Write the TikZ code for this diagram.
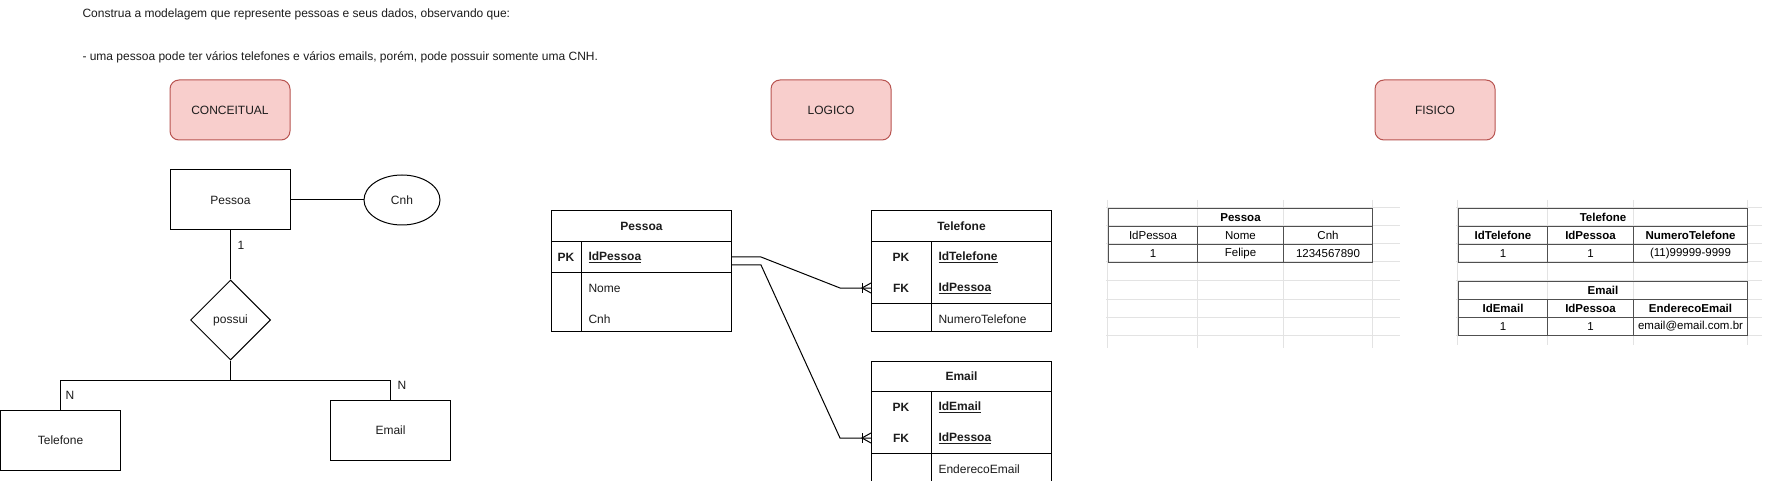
\documentclass[tikz,border=0pt]{standalone}
\usepackage{fontspec}
\setmainfont{Liberation Sans}
\usetikzlibrary{shapes.geometric,calc}
\definecolor{redfill}{HTML}{F8CECC}
\definecolor{redline}{HTML}{B85450}
\definecolor{gridc}{HTML}{E3E3E3}
\definecolor{cellline}{HTML}{505050}
\definecolor{txt}{HTML}{1C1C1C}
\tikzset{
  lbl/.style={font=\fontsize{12}{14}\selectfont, text=txt, inner sep=0pt},
  boldlbl/.style={font=\fontsize{12}{14}\selectfont\bfseries, text=txt, inner sep=0pt},
  titlebox/.style={lbl, draw=redline, fill=redfill, rounded corners=9pt, minimum width=120pt, minimum height=60pt},
  entity/.style={lbl, draw, minimum width=120pt, minimum height=60pt},
  attrib/.style={lbl, draw, ellipse, minimum width=76pt, minimum height=50pt},
  relation/.style={lbl, draw, diamond, minimum width=80pt, minimum height=80pt},
  tablebox/.style={draw, inner sep=0pt, minimum width=180pt, minimum height=120pt, anchor=north west},
  tablerow/.style={inner sep=0pt, minimum width=180pt, minimum height=30pt, anchor=north west},
  cell/.style={draw=cellline, inner sep=0pt, minimum height=18pt, anchor=north west, font=\fontsize{11.5}{13}\selectfont, text=black},
  boldcell/.style={cell, font=\fontsize{11.5}{13}\selectfont\bfseries},
  gridline/.style={draw=gridc, line width=1pt},
  crow/.style={line width=1pt}
}
\begin{document}
\begin{tikzpicture}[x=1pt,y=-1pt,line width=1pt]
\useasboundingbox (0,0) rectangle (1765,481);
\fill[white] (0,0) rectangle (1765,481);

% intro text
\node[lbl, anchor=west] (intro1) at (82,14) {Construa a modelagem que represente pessoas e seus dados, observando que:};
\node[lbl, anchor=west] (intro2) at (82,57) {- uma pessoa pode ter vários telefones e vários emails, porém, pode possuir somente uma CNH.};

% titles
\node[titlebox] (tconc) at (230,110) {CONCEITUAL};
\node[titlebox] (tlog) at (831,110) {LOGICO};
\node[titlebox] (tfis) at (1435,110) {FISICO};

% ---------- conceptual ----------
\node[entity] (cpessoa) at (230.5,200) {Pessoa};
\node[attrib] (ccnh) at (402,200) {Cnh};
\node[relation] (cpossui) at (230.5,320) {possui};
\node[entity] (ctel) at (60.5,440) {Telefone};
\node[entity] (cemail) at (390.5,430) {Email};
\draw (cpessoa.east) -- (ccnh.west);
\draw (cpessoa.south) -- (cpossui.north);
\draw (cpossui.south) -- ++(0,20) coordinate (cj);
\draw (ctel.north) |- (cj);
\draw (cemail.north) |- (cj);
\node[lbl] (c1) at (241,245) {1};
\node[lbl] (cn1) at (70,395) {N};
\node[lbl] (cn2) at (402,385) {N};

% ---------- logical ----------
% Pessoa
\node[tablebox] (lp) at (551,210.5) {};
\node[tablerow] (lph) at (lp.north west) {};
\node[tablerow] (lppk) at (lph.south west) {};
\node[tablerow] (lpr1) at (lppk.south west) {};
\node[tablerow] (lpr2) at (lpr1.south west) {};
\draw (lph.south west) -- (lph.south east);
\draw (lppk.south west) -- (lppk.south east);
\draw ([xshift=30pt]lph.south west) -- ([xshift=30pt]lp.south west);
\node[boldlbl] (lpt) at (lph.center) {Pessoa};
\node[boldlbl] (lpk) at ([xshift=15pt]lppk.west) {PK};
\node[boldlbl, anchor=west] (lpid) at ([xshift=37pt]lppk.west) {\underline{IdPessoa}};
\node[lbl, anchor=west] (lpnome) at ([xshift=37pt]lpr1.west) {Nome};
\node[lbl, anchor=west] (lpcnh) at ([xshift=37pt]lpr2.west) {Cnh};

% Telefone
\node[tablebox] (lt) at (871,210.5) {};
\node[tablerow] (lth) at (lt.north west) {};
\node[tablerow] (ltpk) at (lth.south west) {};
\node[tablerow] (ltfk) at (ltpk.south west) {};
\node[tablerow] (ltr1) at (ltfk.south west) {};
\draw (lth.south west) -- (lth.south east);
\draw (ltfk.south west) -- (ltfk.south east);
\draw ([xshift=60pt]lth.south west) -- ([xshift=60pt]lt.south west);
\node[boldlbl] (ltt) at (lth.center) {Telefone};
\node[boldlbl] (ltpkl) at ([xshift=30pt]ltpk.west) {PK};
\node[boldlbl, anchor=west] (ltid) at ([xshift=67pt]ltpk.west) {\underline{IdTelefone}};
\node[boldlbl] (ltfkl) at ([xshift=30pt]ltfk.west) {FK};
\node[boldlbl, anchor=west] (ltidp) at ([xshift=67pt]ltfk.west) {\underline{IdPessoa}};
\node[lbl, anchor=west] (ltnum) at ([xshift=67pt]ltr1.west) {NumeroTelefone};

% Email
\node[tablebox] (le) at (871,360.5) {};
\node[tablerow] (leh) at (le.north west) {};
\node[tablerow] (lepk) at (leh.south west) {};
\node[tablerow] (lefk) at (lepk.south west) {};
\node[tablerow] (ler1) at (lefk.south west) {};
\draw (leh.south west) -- (leh.south east);
\draw (lefk.south west) -- (lefk.south east);
\draw ([xshift=60pt]leh.south west) -- ([xshift=60pt]le.south west);
\node[boldlbl] (let) at (leh.center) {Email};
\node[boldlbl] (lepkl) at ([xshift=30pt]lepk.west) {PK};
\node[boldlbl, anchor=west] (leid) at ([xshift=67pt]lepk.west) {\underline{IdEmail}};
\node[boldlbl] (lefkl) at ([xshift=30pt]lefk.west) {FK};
\node[boldlbl, anchor=west] (leidp) at ([xshift=67pt]lefk.west) {\underline{IdPessoa}};
\node[lbl, anchor=west] (leend) at ([xshift=67pt]ler1.west) {EnderecoEmail};

% connectors
\draw (lppk.east) -- ++(29,0) -- ($(ltfk.west)+(-31,0)$) -- (ltfk.west);
\draw ([yshift=-8pt]lppk.east) -- ++(29,0) -- ($(lefk.west)+(-31,0)$) -- (lefk.west);
% crow's feet (one or many)
\foreach \t in {ltfk,lefk}{
  \draw[crow] ([xshift=-9pt,yshift=5pt]\t.west) -- ([xshift=-9pt,yshift=-5pt]\t.west);
  \draw[crow] ([yshift=5pt]\t.west) -- ([xshift=-9pt]\t.west) -- ([yshift=-5pt]\t.west);
}

% ---------- physical ----------
% grids
\foreach \yy in {207.5,226,244,262,281,299,317,335}{
  \draw[gridline] (1106,\yy) -- (1400,\yy);
  \draw[gridline] (1456,\yy) -- (1762,\yy);
}
\foreach \xx in {1107.5,1197,1283,1372}{
  \draw[gridline] (\xx,200) -- (\xx,348);
}
\foreach \xx in {1457.5,1547,1633,1747}{
  \draw[gridline] (\xx,200) -- (\xx,345);
}

% Pessoa table
\node[boldcell, minimum width=264pt] (fph) at (1108,208) {Pessoa};
\node[cell, minimum width=89pt] (fpa1) at (1108,226) {IdPessoa};
\node[cell, minimum width=86pt] (fpa2) at (1197,226) {Nome};
\node[cell, minimum width=89pt] (fpa3) at (1283,226) {Cnh};
\node[cell, minimum width=89pt] (fpb1) at (1108,244) {1};
\node[cell, minimum width=86pt] (fpb2) at (1197,244) {Felipe};
\node[cell, minimum width=89pt] (fpb3) at (1283,244) {1234567890};

% Telefone table
\node[boldcell, minimum width=289pt] (fth) at (1458,208) {Telefone};
\node[boldcell, minimum width=89pt] (fta1) at (1458,226) {IdTelefone};
\node[boldcell, minimum width=86pt] (fta2) at (1547,226) {IdPessoa};
\node[boldcell, minimum width=114pt] (fta3) at (1633,226) {NumeroTelefone};
\node[cell, minimum width=89pt] (ftb1) at (1458,244) {1};
\node[cell, minimum width=86pt] (ftb2) at (1547,244) {1};
\node[cell, minimum width=114pt] (ftb3) at (1633,244) {(11)99999-9999};

% Email table
\node[boldcell, minimum width=289pt] (feh) at (1458,281) {Email};
\node[boldcell, minimum width=89pt] (fea1) at (1458,299) {IdEmail};
\node[boldcell, minimum width=86pt] (fea2) at (1547,299) {IdPessoa};
\node[boldcell, minimum width=114pt] (fea3) at (1633,299) {EnderecoEmail};
\node[cell, minimum width=89pt] (feb1) at (1458,317) {1};
\node[cell, minimum width=86pt] (feb2) at (1547,317) {1};
\node[cell, minimum width=114pt] (feb3) at (1633,317) {email@email.com.br};
\end{tikzpicture}
\end{document}
